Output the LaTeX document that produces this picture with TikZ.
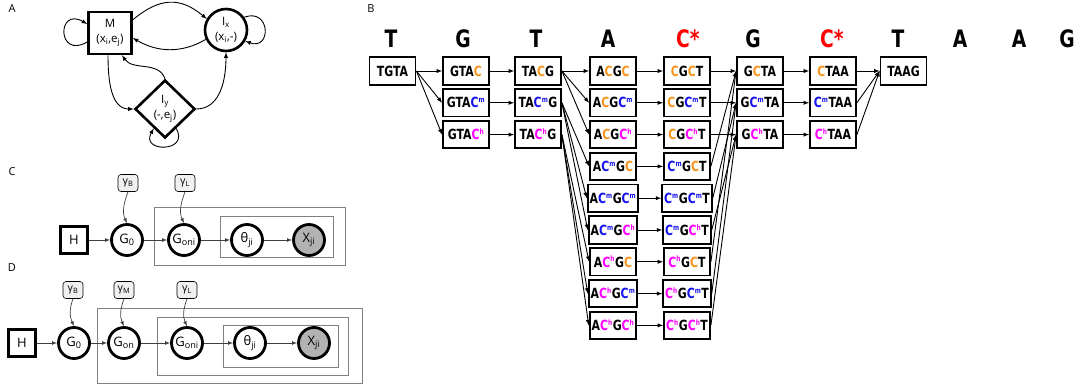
\documentclass[tikz,border=0pt]{standalone}
\usepackage{fontspec}
\usepackage{tikz}
\usetikzlibrary{shapes.geometric}

\setmainfont{Open Sans}
\newfontfamily\seqfont{DejaVu Sans Bold}[FakeStretch=0.78]

\definecolor{unmC}{RGB}{247,148,29}
\definecolor{metC}{RGB}{20,20,235}
\definecolor{hmC}{RGB}{255,0,255}

% the three states of a cytosine
\newcommand\modsup[1]{\textsuperscript{\fontsize{7.5}{7.5}\selectfont #1}}
\newcommand\cunm{\textcolor{unmC}{C}}
\newcommand\cmet{\textcolor{metC}{C\modsup{m}}}
\newcommand\chmc{\textcolor{hmC}{C\modsup{h}}}

\tikzset{
  panel/.style={font=\fontsize{11}{11}\selectfont},
  hmmstate/.style={draw, line width=2.6pt, align=center, inner sep=0pt,
    font=\fontsize{11.5}{15}\selectfont},
  hop/.style={->, >=latex, line width=0.9pt},
  seq/.style={draw, line width=1.8pt, minimum width=46pt, minimum height=27.5pt,
    inner xsep=2pt, font=\seqfont\fontsize{14}{16}\selectfont},
  hdr/.style={font=\seqfont\fontsize{24}{24}\selectfont},
  link/.style={->, >=latex, line width=0.9pt},
  rv/.style={circle, draw, line width=2.8pt, minimum size=31pt, inner sep=0pt,
    font=\fontsize{13}{13}\selectfont},
  fixed/.style={draw, line width=2.8pt, minimum size=27pt, inner sep=0pt,
    font=\fontsize{13}{13}\selectfont},
  hyper/.style={draw, rounded corners=3pt, fill=gray!12, line width=0.6pt,
    minimum width=20pt, minimum height=17pt, inner sep=1pt,
    font=\fontsize{10.5}{10.5}\selectfont},
  plate/.style={draw=black!50, line width=0.9pt},
  dep/.style={->, >=latex, draw=black!75, line width=0.7pt}
}

\begin{document}
\begin{tikzpicture}[x=1pt, y=1pt]
  \useasboundingbox (0,0) rectangle (1076,-385);

  % panel letters
  \node[panel] (lA) at (12,-9) {A};
  \node[panel] (lB) at (371,-9) {B};
  \node[panel] (lC) at (12,-172) {C};
  \node[panel] (lD) at (12,-268) {D};

  % pair HMM
  \node[hmmstate, minimum width=43pt, minimum height=42pt] (M) at (110,-33)
    {M\\(x\textsubscript{i},e\textsubscript{j})};
  \node[hmmstate, circle, minimum size=42pt] (Ix) at (226,-30)
    {I\textsubscript{x}\\(x\textsubscript{i},-)};
  \node[hmmstate, diamond, minimum width=60pt, minimum height=58pt] (Iy) at (165,-109)
    {I\textsubscript{y}\\(-,e\textsubscript{j})};

  \draw[hop] ([yshift=-9pt]M.west) to[out=210, in=150, looseness=5] ([yshift=9pt]M.west);
  \draw[hop] (Ix.35) to[out=20, in=-20, looseness=3] (Ix.-30);
  \draw[hop] (Iy.-60) to[out=-60, in=-120, looseness=3.2] (Iy.-120);
  \draw[hop] (M.30) to[out=40, in=140, looseness=1.2] (Ix.150);
  \draw[hop] (Ix.205) to[out=-150, in=-30] ([yshift=-5pt]M.east);
  \draw[hop] ([xshift=-2pt]M.south) to[out=-90, in=180] (Iy.west);
  \draw[hop] (Iy.north) to[out=110, in=-55] ([xshift=12pt]M.south);
  \draw[hop] (Iy.east) to[out=0, in=-90] (Ix.south);

  % column headers
  \foreach \x/\l/\c [count=\i] in {391/T/black, 463/G/black, 536/T/black, 608/A/black,
      688/C*/red, 753/G/black, 832/C*/red, 898/T/black, 960/A/black, 1019/A/black,
      1067/G/black}
    \node[hdr, text=\c] (h\i) at (\x,-39) {\l};

  % k-mer graph
  \node[seq] (tgta) at (392.5,-71) {TGTA};
  \node[seq] (taag) at (903.5,-71) {TAAG};
  \foreach \y [count=\i] in {\cunm,\cmet,\chmc} {
    \node[seq] (gtac\i) at (466,{-71-31.8*(\i-1)}) {GTA\y};
    \node[seq] (tacg\i) at (538,{-71-31.8*(\i-1)}) {TA\y G};
    \node[seq] (gcta\i) at (760,{-71-31.8*(\i-1)}) {G\y TA};
    \node[seq] (ctaa\i) at (833,{-71-31.8*(\i-1)}) {\y TAA};
  }
  \foreach \x [count=\i] in {\cunm,\cmet,\chmc}
    \foreach \y [count=\j] in {\cunm,\cmet,\chmc} {
      \pgfmathsetmacro\ry{-71-31.8*(3*\i+\j-4)}
      \node[seq] (acgc\i\j) at (613,\ry) {A\x G\y};
      \node[seq] (cgct\i\j) at (687,\ry) {\x G\y T};
      \draw[link] (tacg\i.east) -- (acgc\i\j.west);
      \draw[link] (acgc\i\j) -- (cgct\i\j);
      \draw[link] (cgct\i\j.east) -- (gcta\j.west);
    }
  \foreach \i in {1,2,3} {
    \draw[link] (tgta.east) -- (gtac\i.west);
    \draw[link] (gtac\i) -- (tacg\i);
    \draw[link] (gcta\i) -- (ctaa\i);
    \draw[link] (ctaa\i.east) -- (taag.west);
  }

  % HDP model
  \draw[plate] (154,-207) rectangle (345,-265);
  \draw[plate] (220,-216) rectangle (333,-257);
  \node[fixed] (Hc) at (74,-240) {H};
  \node[rv] (G0c) at (127,-240) {G\textsubscript{0}};
  \node[rv] (Gonic) at (184,-240) {G\textsubscript{oni}};
  \node[rv] (thc) at (247,-240) {θ\textsubscript{ji}};
  \node[rv, fill=black!30] (Xc) at (309,-240) {X\textsubscript{ji}};
  \node[hyper] (gBc) at (128,-183) {γ\textsubscript{B}};
  \node[hyper] (gLc) at (185,-183) {γ\textsubscript{L}};
  \draw[dep] (Hc) -- (G0c);
  \draw[dep] (G0c) -- (Gonic);
  \draw[dep] (Gonic) -- (thc);
  \draw[dep] (thc) -- (Xc);
  \draw[dep] (gBc.south) to[out=250, in=115] (G0c.north);
  \draw[dep] (gLc.south) to[out=250, in=115] (Gonic.north);

  % HDP model with an extra level
  \draw[plate] (97,-308) rectangle (362,-383);
  \draw[plate] (157,-317) rectangle (348,-375);
  \draw[plate] (223,-325) rectangle (338,-367);
  \node[fixed] (Hd) at (22,-343) {H};
  \node[rv] (G0d) at (74,-343) {G\textsubscript{0}};
  \node[rv] (Gond) at (124,-343) {G\textsubscript{on}};
  \node[rv] (Gonid) at (187,-343) {G\textsubscript{oni}};
  \node[rv] (thd) at (250,-343) {θ\textsubscript{ji}};
  \node[rv, fill=black!30] (Xd) at (314,-343) {X\textsubscript{ji}};
  \node[hyper] (gBd) at (73,-290) {γ\textsubscript{B}};
  \node[hyper] (gMd) at (124,-290) {γ\textsubscript{M}};
  \node[hyper] (gLd) at (187,-290) {γ\textsubscript{L}};
  \draw[dep] (Hd) -- (G0d);
  \draw[dep] (G0d) -- (Gond);
  \draw[dep] (Gond) -- (Gonid);
  \draw[dep] (Gonid) -- (thd);
  \draw[dep] (thd) -- (Xd);
  \draw[dep] (gBd.south) to[out=250, in=115] (G0d.north);
  \draw[dep] (gMd.south) to[out=250, in=115] (Gond.north);
  \draw[dep] (gLd.south) to[out=250, in=115] (Gonid.north);
\end{tikzpicture}
\end{document}
